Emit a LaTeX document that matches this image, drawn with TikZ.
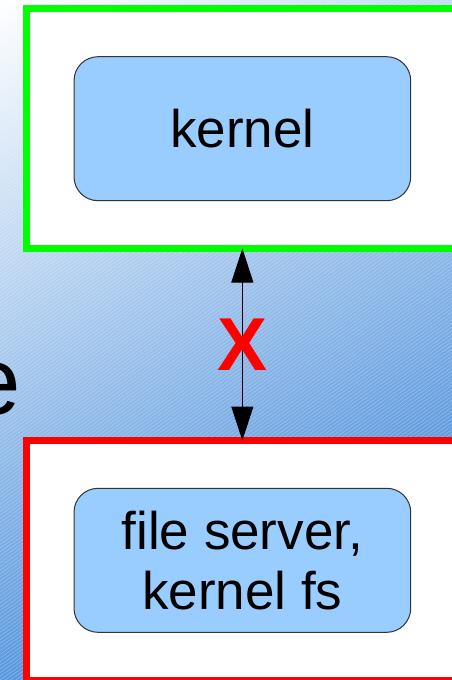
\documentclass[tikz,border=0pt]{standalone}
\usepackage{fontspec}
\setmainfont{Liberation Sans}
\usetikzlibrary{arrows.meta,patterns.meta,shadings}

% palette
\definecolor{bgtr}{RGB}{195,218,243}
\definecolor{bgbl}{RGB}{89,152,222}
\definecolor{bgbr}{RGB}{40,120,212}
\definecolor{framegreen}{RGB}{0,255,0}
\definecolor{framered}{RGB}{255,0,0}
\definecolor{boxfill}{HTML}{99CCFF}
\definecolor{boxline}{HTML}{333333}

\tikzset{
  frame/.style={draw, fill=white, line width=7pt, outer sep=0pt,
    minimum width=483.5pt, minimum height=240pt, inner sep=0pt},
  roundbox/.style={draw=boxline, fill=boxfill, line width=1pt,
    rounded corners=24pt, minimum width=336.7pt, minimum height=144pt,
    align=center, font=\fontsize{53}{60}\selectfont, inner sep=0pt},
  blocked/.style={line width=1pt,
    {Triangle[length=34pt,width=22pt]}-{Triangle[length=34pt,width=22pt]}},
  cross/.style={text=framered, inner sep=0pt,
    font=\fontsize{75}{80}\selectfont\bfseries},
}

\begin{document}
\begin{tikzpicture}[x=1pt,y=-1pt]
\useasboundingbox (0,0) rectangle (452,680);

% backdrop: light-to-blue gradient with fine diagonal hatching
\shade[upper left=white, upper right=bgtr, lower left=bgbl, lower right=bgbr]
  (0,0) rectangle (452,680);
\fill[pattern={Lines[angle=35,distance=3pt,line width=0.6pt]},
  pattern color=white, opacity=0.3] (0,0) rectangle (452,680);

% tail of a large word running off the left edge
\node[font=\fontsize{96}{110}\selectfont, anchor=base west, inner sep=0pt]
  (word) at (-33,414) {e};

% the two domains
\node[frame, draw=framegreen] (top) at (268.25,128.5) {};
\node[frame, draw=framered] (bottom) at (268.25,560.5) {};

% components inside them
\node[roundbox] (kernel) at (242.35,128.7) {kernel};
\node[roundbox] (fs) at (242.35,560.3) {file server,\\kernel fs};

% forbidden link between the domains
\draw[blocked] (kernel |- top.south) -- (fs |- bottom.north)
  node[cross, midway] (nolink) {X};
\end{tikzpicture}
\end{document}
